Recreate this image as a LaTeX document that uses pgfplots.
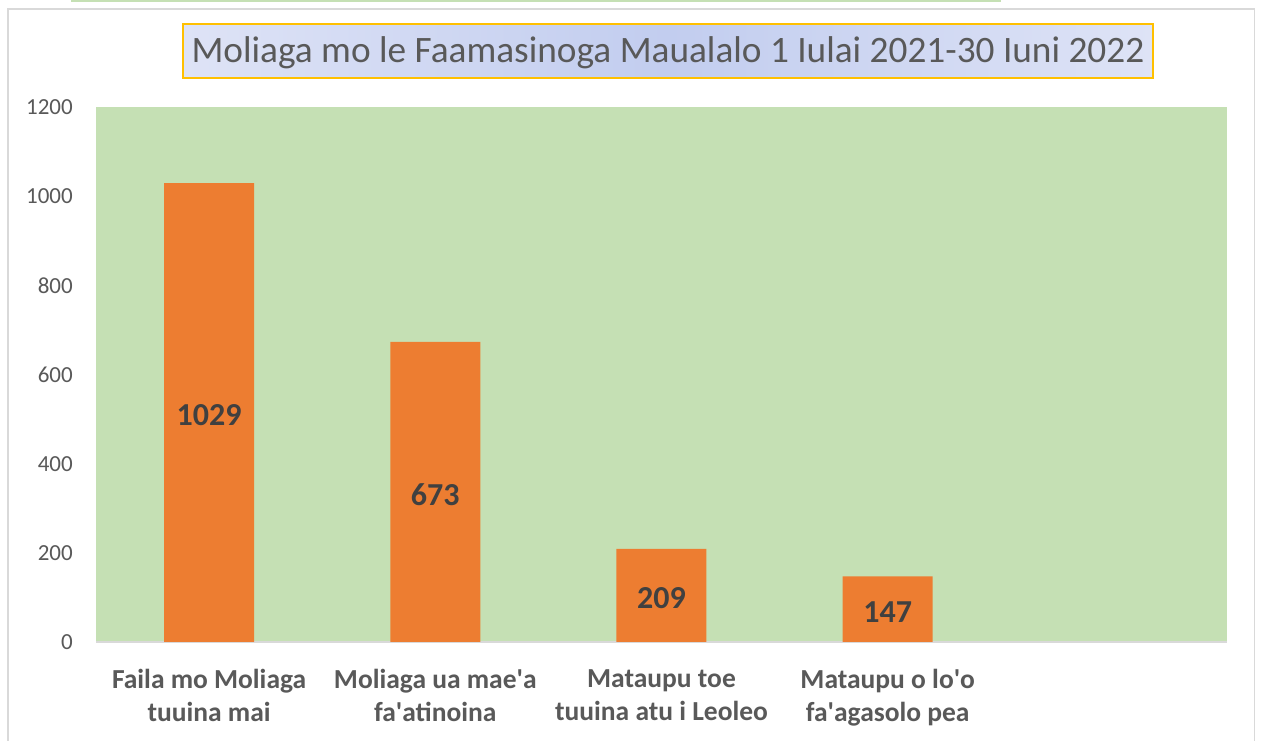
\documentclass[border=0pt]{standalone}
\usepackage{pgfplots}
\pgfplotsset{compat=1.18}
\usepackage{fontspec}
\setmainfont{Carlito}
\definecolor{plotgreen}{HTML}{C5E0B4}
\definecolor{barorange}{HTML}{ED7D31}
\definecolor{txtgray}{HTML}{595959}
\definecolor{lblgray}{HTML}{404040}
\definecolor{framegray}{HTML}{D9D9D9}
\definecolor{titlegold}{HTML}{FFC000}
\definecolor{titlelight}{HTML}{DEE3F6}
\definecolor{titledark}{HTML}{C2CDEF}
\begin{document}
\begin{tikzpicture}[x=1pt,y=1pt]
\path[use as bounding box] (0,0) rectangle (1261,741);
\fill[white] (0,0) rectangle (1261,741);
\draw[framegray, line width=1.5pt] (8,-5) -- (8,732) -- (1254.5,732) -- (1254.5,-5);
\draw[plotgreen, line width=2.5pt] (71,740.5) -- (1001,740.5);
\begin{axis}[
  at={(96pt,99pt)}, anchor=south west,
  width=1131pt, height=535pt, scale only axis,
  xmin=-0.5, xmax=4.5, ymin=0, ymax=1200,
  axis background/.style={fill=plotgreen},
  axis x line*=bottom, axis y line=none,
  x axis line style={framegray, line width=1.5pt},
  ytick={0,200,...,1200},
  xtick={0,1,2,3},
  xticklabels={{Faila mo Moliaga\\tuuina mai},{Moliaga ua mae\textquotesingle a\\fa\textquotesingle atinoina},{Mataupu toe\\tuuina atu i Leoleo},{Mataupu o lo\textquotesingle o\\fa\textquotesingle agasolo pea}},
  major tick length=0pt,
  xticklabel style={align=center, anchor=north, inner sep=0pt, yshift=-27pt, font=\fontsize{27.5}{33}\selectfont\bfseries, text=txtgray},
  /pgf/number format/assume math mode=true,
  /pgf/number format/1000 sep={},
  enlargelimits=false,
  clip=false,
]
\end{axis}
\begin{axis}[
  at={(96pt,99pt)}, anchor=south west,
  width=1131pt, height=535pt, scale only axis,
  xmin=-0.5, xmax=4.5, ymin=0, ymax=1200,
  axis lines=none,
  ytick={0,200,...,1200},
  xtick=\empty,
  /pgf/number format/assume math mode=true,
  /pgf/number format/1000 sep={},
  ybar, bar width=90pt,
  clip=false,
  nodes near coords,
  visualization depends on={y \as \rawy},
  every node near coord/.append style={anchor=center, yshift=-3pt, font=\fontsize{32}{36}\selectfont\bfseries, text=lblgray, shift={(axis direction cs:0,-\rawy/2)}},
]
\addplot[fill=barorange, draw=none] coordinates {(0,1029) (1,673) (2,209) (3,147)};
\end{axis}
\begin{axis}[
  at={(96pt,99pt)}, anchor=south west,
  width=1131pt, height=535pt, scale only axis,
  xmin=-0.5, xmax=4.5, ymin=0, ymax=1200,
  axis x line=none, axis y line*=left,
  y axis line style={draw=none},
  ytick={0,200,...,1200},
  major tick length=0pt,
  yticklabel style={anchor=east, inner sep=0pt, xshift=-23pt, font=\fontsize{23}{28}\selectfont, text=txtgray},
  /pgf/number format/assume math mode=true,
  /pgf/number format/1000 sep={},
]
\end{axis}
\node[draw=titlegold, line width=1.5pt, left color=titlelight, right color=titlelight, middle color=titledark, minimum width=970pt, minimum height=54pt, inner sep=0pt] at (668,690) {};
\node[text=txtgray, font=\fontsize{37.3}{40}\selectfont, inner sep=0pt] at (668,688) {Moliaga mo le Faamasinoga Maualalo 1 Iulai 2021-30 Iuni 2022};
\end{tikzpicture}
\end{document}
